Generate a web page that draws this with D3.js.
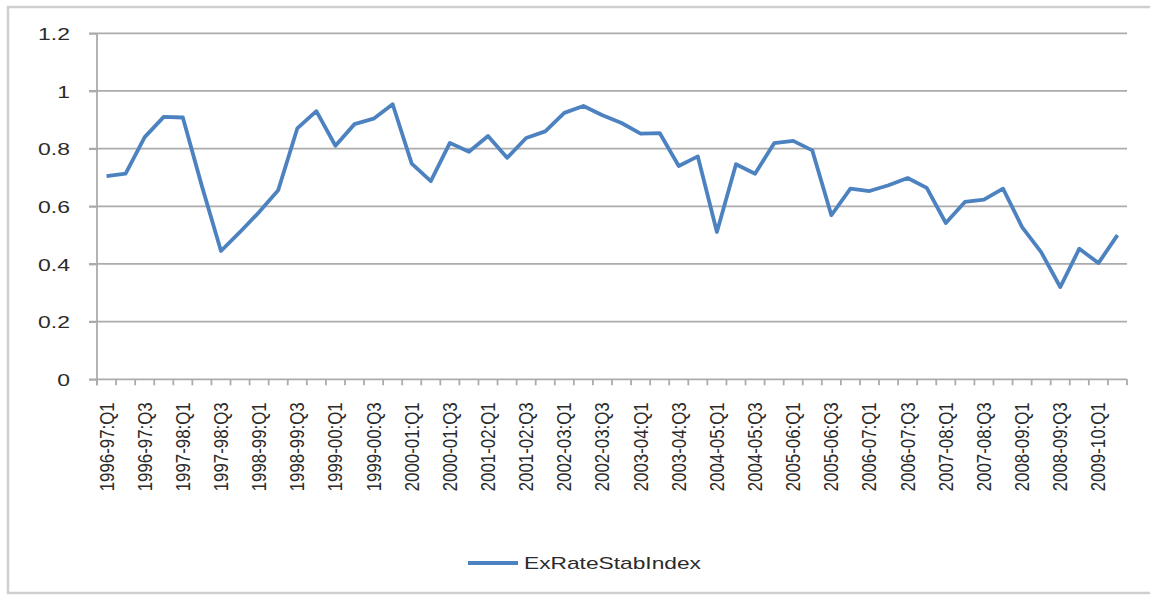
<!DOCTYPE html>
<html>
<head>
<meta charset="utf-8">
<script src="https://cdn.jsdelivr.net/npm/d3@7"></script>
<style>
  body { margin: 0; background: #fff; }
  svg { display: block; }
  text { font-family: "Liberation Sans", Arial, sans-serif; fill: #2b2b2b; }
</style>
</head>
<body>
<div id="chart"></div>
<script>

// data
var quarters = [
  "1996-97:Q1","1996-97:Q2","1996-97:Q3","1996-97:Q4",
  "1997-98:Q1","1997-98:Q2","1997-98:Q3","1997-98:Q4",
  "1998-99:Q1","1998-99:Q2","1998-99:Q3","1998-99:Q4",
  "1999-00:Q1","1999-00:Q2","1999-00:Q3","1999-00:Q4",
  "2000-01:Q1","2000-01:Q2","2000-01:Q3","2000-01:Q4",
  "2001-02:Q1","2001-02:Q2","2001-02:Q3","2001-02:Q4",
  "2002-03:Q1","2002-03:Q2","2002-03:Q3","2002-03:Q4",
  "2003-04:Q1","2003-04:Q2","2003-04:Q3","2003-04:Q4",
  "2004-05:Q1","2004-05:Q2","2004-05:Q3","2004-05:Q4",
  "2005-06:Q1","2005-06:Q2","2005-06:Q3","2005-06:Q4",
  "2006-07:Q1","2006-07:Q2","2006-07:Q3","2006-07:Q4",
  "2007-08:Q1","2007-08:Q2","2007-08:Q3","2007-08:Q4",
  "2008-09:Q1","2008-09:Q2","2008-09:Q3","2008-09:Q4",
  "2009-10:Q1","2009-10:Q2"
];

var exRateStabIndex = [
  0.705, 0.713, 0.840, 0.910, 0.908, 0.670, 0.445, 0.511, 0.580, 0.656,
  0.870, 0.930, 0.810, 0.885, 0.904, 0.954, 0.748, 0.687, 0.820, 0.789,
  0.844, 0.768, 0.837, 0.860, 0.924, 0.948, 0.916, 0.889, 0.852, 0.854,
  0.740, 0.773, 0.511, 0.746, 0.713, 0.819, 0.827, 0.794, 0.569, 0.661,
  0.653, 0.673, 0.698, 0.664, 0.542, 0.615, 0.623, 0.661, 0.528, 0.441,
  0.320, 0.453, 0.403, 0.500
];

var yTicks = [0, 0.2, 0.4, 0.6, 0.8, 1, 1.2];
var yTickLabels = ["0", "0.2", "0.4", "0.6", "0.8", "1", "1.2"];
var seriesName = "ExRateStabIndex";

var width = 1150,
    height = 595,
    plot = {left: 97, right: 1127, top: 33.3, bottom: 379.3},
    stretch = 1.35,   // the picture is wider than tall text would be
    lineColour = "#4d82c0";

var svg = d3.select("#chart").append("svg")
    .attr("width", width)
    .attr("height", height);

// outer chart border
svg.append("rect")
    .attr("x", 8).attr("y", 7)
    .attr("width", 1150).attr("height", 586)
    .attr("fill", "none")
    .attr("stroke", "#cfcfcf")
    .attr("stroke-width", 2.5);

var x = d3.scaleBand()
    .domain(quarters)
    .range([plot.left, plot.right])
    .padding(0);

var y = d3.scaleLinear()
    .domain([0, 1.2])
    .range([plot.bottom, plot.top]);

// gridlines
svg.append("g")
  .selectAll("line")
  .data(yTicks.filter(function(d) { return d > 0; }))
  .enter().append("line")
    .attr("x1", plot.left - 8)
    .attr("x2", plot.right)
    .attr("y1", function(d) { return y(d); })
    .attr("y2", function(d) { return y(d); })
    .attr("stroke", "#ababab")
    .attr("stroke-width", 1.8);

// y axis
var yAxis = svg.append("g")
    .attr("transform", "translate(" + plot.left + ",0)")
    .call(d3.axisLeft(y)
      .tickValues(yTicks)
      .tickSize(8)
      .tickPadding(0)
      .tickFormat(function(d, i) { return yTickLabels[i]; }));

yAxis.select(".domain")
    .attr("d", "M0," + (plot.top) + "V" + (plot.bottom + 6))
    .attr("stroke", "#ababab")
    .attr("stroke-width", 1.8);
yAxis.selectAll(".tick line")
    .attr("stroke", "#ababab")
    .attr("stroke-width", 1.8);
yAxis.selectAll(".tick text")
    .attr("x", 0)
    .attr("dy", "0.36em")
    .attr("transform", "translate(-27,0) scale(" + stretch + ",1)")
    .style("font-size", "17px")
    .style("fill", "#2b2b2b");

// x axis: ticks on the category boundaries
var xAxis = svg.append("g");

xAxis.append("line")
    .attr("x1", plot.left - 8)
    .attr("x2", plot.right)
    .attr("y1", plot.bottom)
    .attr("y2", plot.bottom)
    .attr("stroke", "#ababab")
    .attr("stroke-width", 1.8);

var bounds = quarters.map(function(q) { return x(q); }).concat([plot.right]);

xAxis.selectAll(".xtick")
  .data(bounds)
  .enter().append("line")
    .attr("class", "xtick")
    .attr("x1", function(d) { return d; })
    .attr("x2", function(d) { return d; })
    .attr("y1", plot.bottom)
    .attr("y2", plot.bottom + 6)
    .attr("stroke", "#ababab")
    .attr("stroke-width", 1.8);

// every second quarter gets a label
xAxis.selectAll(".xlabel")
  .data(quarters.filter(function(d, i) { return i % 2 === 0; }))
  .enter().append("text")
    .attr("class", "xlabel")
    .attr("transform", function(d) {
      return "translate(" + (x(d) + x.bandwidth() / 2) + "," + (plot.bottom + 23) + ") rotate(-90) scale(1,1.25)";
    })
    .attr("text-anchor", "end")
    .attr("dy", "0.36em")
    .attr("textLength", 89)
    .attr("lengthAdjust", "spacingAndGlyphs")
    .style("font-size", "15.5px")
    .text(function(d) { return d; });

// the series
var line = d3.line()
    .x(function(d, i) { return x(quarters[i]) + x.bandwidth() / 2; })
    .y(function(d) { return y(d); });

svg.append("path")
    .datum(exRateStabIndex)
    .attr("d", line)
    .attr("fill", "none")
    .attr("stroke", lineColour)
    .attr("stroke-width", 3.8)
    .attr("stroke-linejoin", "round");

// legend
var legend = svg.append("g")
    .attr("transform", "translate(468,563)");

legend.append("line")
    .attr("x1", 0).attr("x2", 50)
    .attr("y1", 0).attr("y2", 0)
    .attr("stroke", lineColour)
    .attr("stroke-width", 3.8);

legend.append("text")
    .attr("x", 56)
    .attr("dy", "0.36em")
    .attr("textLength", 177)
    .attr("lengthAdjust", "spacingAndGlyphs")
    .style("font-size", "17px")
    .text(seriesName);

</script>
</body>
</html>
